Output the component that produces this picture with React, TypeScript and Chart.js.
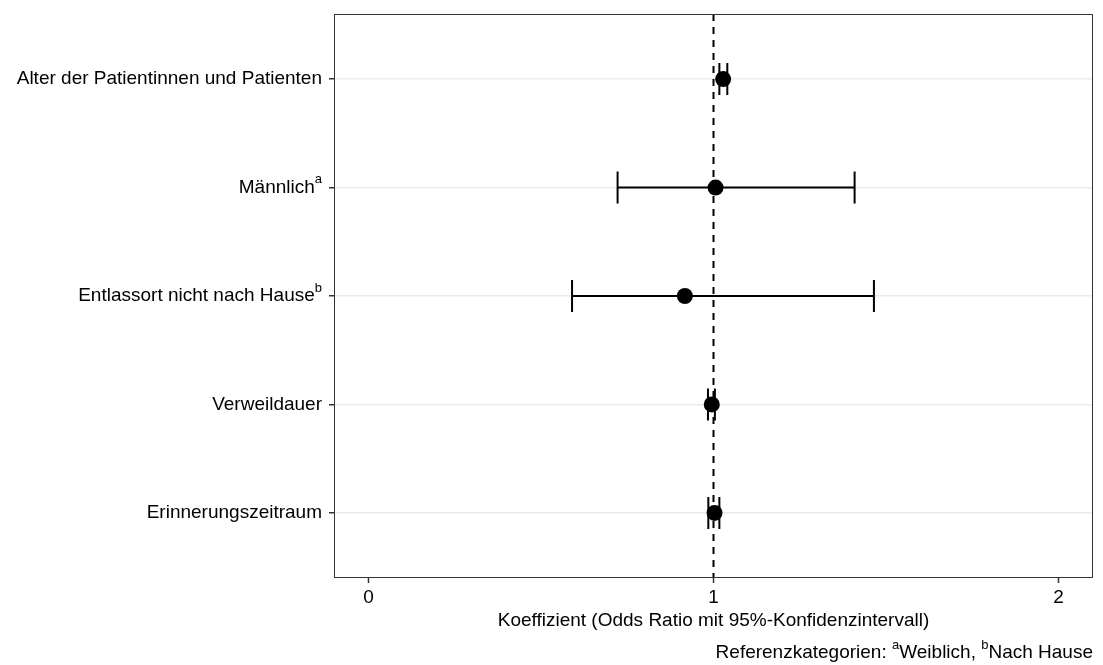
import React, { useEffect, useRef } from "react";
import { Chart, registerables } from "chart.js";

Chart.register(...registerables);

// Predictors, top to bottom
const categories = [
  "Alter der Patientinnen und Patienten",
  "Männlich",
  "Entlassort nicht nach Hause",
  "Verweildauer",
  "Erinnerungszeitraum",
];
const superscripts = ["", "a", "b", "", ""];

// Odds ratios with 95% confidence limits
const oddsRatio = [1.028, 1.006, 0.917, 0.995, 1.003];
const ciLower = [1.017, 0.722, 0.59, 0.984, 0.985];
const ciUpper = [1.04, 1.409, 1.465, 1.004, 1.017];

const xTicks = [0, 1, 2];
const referenceLine = 1;

const xTitle = "Koeffizient (Odds Ratio mit 95%-Konfidenzintervall)";
const captionPrefix = "Referenzkategorien: ";
const captionParts: [string, string][] = [
  ["a", "Weiblich, "],
  ["b", "Nach Hause"],
];

const FONT = '"Liberation Sans", Arial, Helvetica, sans-serif';

const forestPlugin = {
  id: "forest",
  beforeDatasetsDraw(chart: any) {
    const { ctx, chartArea, scales } = chart;
    const x = scales.x;
    const y = scales.y;
    ctx.save();
    // dashed reference line at OR = 1
    const rx = x.getPixelForValue(referenceLine);
    ctx.strokeStyle = "#000";
    ctx.lineWidth = 2;
    ctx.setLineDash([7, 6]);
    ctx.beginPath();
    ctx.moveTo(rx, chartArea.top);
    ctx.lineTo(rx, chartArea.bottom);
    ctx.stroke();
    ctx.setLineDash([]);
    // confidence interval bars
    ctx.lineWidth = 2;
    const cap = 16;
    for (let i = 0; i < categories.length; i++) {
      const py = y.getPixelForValue(i);
      const x1 = x.getPixelForValue(ciLower[i]);
      const x2 = x.getPixelForValue(ciUpper[i]);
      ctx.beginPath();
      ctx.moveTo(x1, py);
      ctx.lineTo(x2, py);
      ctx.moveTo(x1, py - cap);
      ctx.lineTo(x1, py + cap);
      ctx.moveTo(x2, py - cap);
      ctx.lineTo(x2, py + cap);
      ctx.stroke();
    }
    ctx.restore();
  },
  afterDraw(chart: any) {
    const { ctx, chartArea, scales } = chart;
    const x = scales.x;
    const y = scales.y;
    ctx.save();
    // panel border
    ctx.strokeStyle = "#333";
    ctx.lineWidth = 1;
    ctx.strokeRect(
      Math.round(chartArea.left) + 0.5,
      Math.round(chartArea.top) + 0.5,
      Math.round(chartArea.right - chartArea.left) - 1,
      Math.round(chartArea.bottom - chartArea.top) - 1
    );

    ctx.fillStyle = "#000";
    ctx.textBaseline = "middle";
    const main = `19px ${FONT}`;
    const sup = `13px ${FONT}`;
    const raise = 8;

    // y tick labels with superscripts
    const labelRight = chartArea.left - 12;
    for (let i = 0; i < categories.length; i++) {
      const py = y.getPixelForValue(i);
      ctx.font = sup;
      const sw = superscripts[i] ? ctx.measureText(superscripts[i]).width : 0;
      ctx.font = main;
      ctx.textAlign = "right";
      ctx.fillText(categories[i], labelRight - sw, py);
      if (superscripts[i]) {
        ctx.font = sup;
        ctx.textAlign = "left";
        ctx.fillText(superscripts[i], labelRight - sw, py - raise);
      }
    }

    // x tick labels
    ctx.font = main;
    ctx.textAlign = "center";
    for (const t of xTicks) {
      ctx.fillText(String(t), x.getPixelForValue(t), chartArea.bottom + 20);
    }

    // x title
    ctx.fillText(xTitle, (chartArea.left + chartArea.right) / 2, chartArea.bottom + 43);

    // caption, right aligned to the panel
    const capY = chartArea.bottom + 75;
    const pieces: { text: string; sup: boolean }[] = [{ text: captionPrefix, sup: false }];
    for (const [s, t] of captionParts) {
      pieces.push({ text: s, sup: true });
      pieces.push({ text: t, sup: false });
    }
    let total = 0;
    for (const p of pieces) {
      ctx.font = p.sup ? sup : main;
      total += ctx.measureText(p.text).width;
    }
    let cx = chartArea.right - total;
    ctx.textAlign = "left";
    for (const p of pieces) {
      ctx.font = p.sup ? sup : main;
      ctx.fillText(p.text, cx, p.sup ? capY - raise : capY);
      cx += ctx.measureText(p.text).width;
    }
    ctx.restore();
  },
};

export default function App() {
  const ref = useRef<HTMLCanvasElement | null>(null);

  useEffect(() => {
    if (!ref.current) return;
    const chart = new Chart(ref.current, {
      type: "scatter",
      data: {
        datasets: [
          {
            data: oddsRatio.map((v, i) => ({ x: v, y: i })),
            pointRadius: 8,
            pointHoverRadius: 8,
            backgroundColor: "#000",
            borderColor: "#000",
            borderWidth: 0,
          },
        ],
      },
      options: {
        animation: false,
        responsive: false,
        devicePixelRatio: 1,
        events: [],
        layout: { padding: { left: 334, right: 10, top: 14, bottom: 87 } },
        plugins: {
          legend: { display: false },
          tooltip: { enabled: false },
        },
        scales: {
          x: {
            type: "linear",
            min: -0.1,
            max: 2.1,
            afterBuildTicks: (s: any) => {
              s.ticks = xTicks.map((v) => ({ value: v }));
            },
            afterFit: (s: any) => {
              s.height = 0;
            },
            ticks: { display: false },
            border: { display: false },
            grid: {
              drawOnChartArea: false,
              drawTicks: true,
              tickLength: 5,
              tickColor: "#333",
              tickWidth: 1.5,
            },
          },
          y: {
            type: "linear",
            reverse: true,
            min: -0.6,
            max: 4.6,
            afterBuildTicks: (s: any) => {
              s.ticks = categories.map((_, i) => ({ value: i }));
            },
            afterFit: (s: any) => {
              s.width = 0;
            },
            ticks: { display: false },
            border: { display: false },
            grid: {
              color: "#ebebeb",
              lineWidth: 1.5,
              drawTicks: true,
              tickLength: 5,
              tickColor: "#333",
              tickWidth: 1.5,
            },
          },
        },
      },
      plugins: [forestPlugin],
    });
    return () => chart.destroy();
  }, []);

  return (
    <div style={{ position: "absolute", left: 0, top: 0, width: 1103, height: 665, background: "#fff" }}>
      <canvas ref={ref} width={1103} height={665} />
    </div>
  );
}
